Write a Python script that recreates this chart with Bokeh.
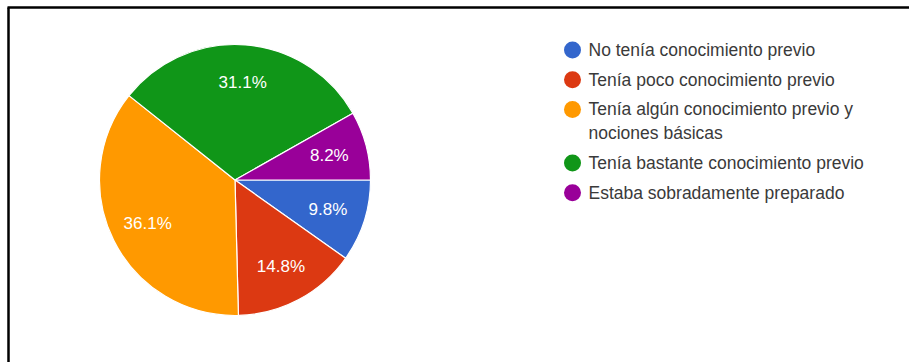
import math
from bokeh.plotting import figure
from bokeh.models import Range1d
from bokeh.core.properties import value
from bokeh.embed import file_html
from bokeh.resources import INLINE

# ---- data ----
categories = [
    "No tenía conocimiento previo",
    "Tenía poco conocimiento previo",
    "Tenía algún conocimiento previo y\nnociones básicas",
    "Tenía bastante conocimiento previo",
    "Estaba sobradamente preparado",
]
percentages = [9.8, 14.8, 36.1, 31.1, 8.2]
colors = ["#3366cc", "#dc3912", "#ff9900", "#109618", "#990099"]

# ---- layout constants (screen pixels) ----
W, H = 909, 362
CX, CY = 234.5, H - 179.5
R = 135.5
LABEL_FRAC = 0.72
LEG_MARK_X = 572.0
LEG_TEXT_X = 588.0
LEG_TOP = 49.5
LEG_LINE = 24.0
LEG_ITEM = 29.7
FONT = "Liberation Sans"

p = figure(width=W, height=H, x_range=Range1d(0, W), y_range=Range1d(0, H),
           output_backend="svg", toolbar_location=None, min_border=0)
p.axis.visible = False
p.grid.visible = False
p.outline_line_color = None
p.background_fill_color = "white"
p.border_fill_color = "white"

total = sum(percentages)
starts, ends, lx, ly, ltxt = [], [], [], [], []
cum = 0.0
for v in percentages:
    a0 = -cum / total * 2 * math.pi
    cum += v
    a1 = -cum / total * 2 * math.pi
    starts.append(a0)
    ends.append(a1)
    mid = (a0 + a1) / 2
    lx.append(CX + LABEL_FRAC * R * math.cos(mid))
    ly.append(CY + LABEL_FRAC * R * math.sin(mid))
    ltxt.append(f"{v:.1f}%")

p.wedge(x=[CX] * len(percentages), y=[CY] * len(percentages), radius=R,
        start_angle=starts, end_angle=ends, direction="clock",
        fill_color=colors, line_color="white", line_width=1.2)

p.text(x=lx, y=ly, text=ltxt, text_color="white", text_font=value(FONT),
       text_font_size="17px", text_align="center", text_baseline="middle")

# legend
mx, my, mc, tx, ty, tt = [], [], [], [], [], []
yc = LEG_TOP
for cat, col in zip(categories, colors):
    lines = cat.split("\n")
    mx.append(LEG_MARK_X)
    my.append(H - yc)
    mc.append(col)
    for i, ln in enumerate(lines):
        tx.append(LEG_TEXT_X)
        ty.append(H - yc)
        tt.append(ln)
        if i < len(lines) - 1:
            yc += LEG_LINE
    yc += LEG_ITEM

p.scatter(x=mx, y=my, size=17, fill_color=mc, line_color=None)
p.text(x=tx, y=ty, text=tt, text_color="#3a3a3a", text_font=value(FONT),
       text_font_size="17.5px", text_align="left", text_baseline="middle")

# frame lines (top and left)
p.segment(x0=[7, 8], y0=[H - 7, H - 7], x1=[W, 8], y1=[H - 7, 0],
          line_color="black", line_width=2.5)

open("out.html", "w").write(file_html(p, INLINE))
